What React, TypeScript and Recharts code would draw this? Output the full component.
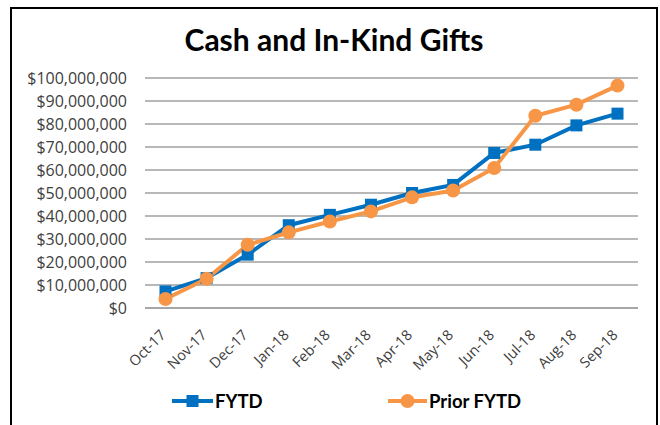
import React from 'react';
import { LineChart, Line, XAxis, YAxis, CartesianGrid } from 'recharts';

const months = ['Oct-17', 'Nov-17', 'Dec-17', 'Jan-18', 'Feb-18', 'Mar-18', 'Apr-18', 'May-18', 'Jun-18', 'Jul-18', 'Aug-18', 'Sep-18'];
const fytd = [7200000, 13000000, 23200000, 36000000, 40500000, 44900000, 50000000, 53500000, 67400000, 71000000, 79400000, 84500000];
const priorFytd = [3900000, 12700000, 27500000, 32900000, 37600000, 42000000, 48100000, 51100000, 60900000, 83600000, 88400000, 96700000];
const yTicks = [0, 10000000, 20000000, 30000000, 40000000, 50000000, 60000000, 70000000, 80000000, 90000000, 100000000];

const data = months.map((m, i) => ({ month: m, fytd: fytd[i], prior: priorFytd[i] }));

const BLUE = '#0070C0';
const ORANGE = '#F79646';
const FONT = 'Lato, "Open Sans", sans-serif';
const TICK_FONT = '"Open Sans", Lato, sans-serif';

const fmt = (v: number) => '$' + v.toLocaleString('en-US');

const XTick = (props: any) => {
  const { x, y, payload } = props;
  return (
    <g transform={`translate(${x + 1},${y + 20})`}>
      <text x={0} y={0} textAnchor="end" transform="rotate(-45)" fontSize={14.5} fill="#404040" fontFamily={TICK_FONT}>
        {payload.value}
      </text>
    </g>
  );
};

const SquareDot = (props: any) => {
  const { cx, cy, index } = props;
  if (cx == null || cy == null) return null;
  return <rect key={`s${index}`} x={cx - 6} y={cy - 6} width={12} height={12} fill={BLUE} />;
};

const CircleDot = (props: any) => {
  const { cx, cy, index } = props;
  if (cx == null || cy == null) return null;
  return <circle key={`c${index}`} cx={cx} cy={cy} r={7} fill={ORANGE} />;
};

export default function App() {
  return (
    <div style={{ position: 'absolute', left: 0, top: 0, width: 660, height: 425, background: '#fff', overflow: 'hidden' }}>
      <div
        style={{
          position: 'absolute',
          left: 10,
          top: 7,
          width: 648,
          height: 440,
          border: '2px solid #000',
          boxSizing: 'border-box',
        }}
      />
      <div
        style={{
          position: 'absolute',
          left: 0,
          top: 21,
          width: 668,
          textAlign: 'center',
          fontFamily: FONT,
          fontWeight: 700,
          fontSize: 30,
          lineHeight: '36px',
          color: '#000',
        }}
      >
        Cash and In-Kind Gifts
      </div>
      <div style={{ position: 'absolute', left: 0, top: 0 }}>
        <LineChart width={660} height={425} data={data} margin={{ top: 78, right: 22, bottom: 0, left: 0 }}>
          <CartesianGrid vertical={false} stroke="#a0a0a0" strokeWidth={1.5} />
          <XAxis
            dataKey="month"
            height={117}
            tick={<XTick />}
            tickLine={false}
            axisLine={{ stroke: '#a0a0a0', strokeWidth: 1.5 }}
            interval={0}
            padding={{ left: 20.5, right: 20.5 }}
          />
          <YAxis
            width={145}
            domain={[0, 100000000]}
            ticks={yTicks}
            tickFormatter={fmt}
            tickLine={false}
            axisLine={false}
            tickMargin={12}
            tick={{ fontSize: 16, fill: '#404040', fontFamily: TICK_FONT }}
          />
          <Line dataKey="fytd" stroke={BLUE} strokeWidth={4} dot={<SquareDot />} isAnimationActive={false} />
          <Line dataKey="prior" stroke={ORANGE} strokeWidth={4} dot={<CircleDot />} isAnimationActive={false} />
        </LineChart>
      </div>
      <div style={{ position: 'absolute', left: 172, top: 390, display: 'flex', alignItems: 'center', fontFamily: FONT, fontWeight: 700, fontSize: 18.5 }}>
        <svg width={41} height={20}>
          <line x1={0} y1={10} x2={41} y2={10} stroke={BLUE} strokeWidth={4} />
          <rect x={14.5} y={4} width={12} height={12} fill={BLUE} />
        </svg>
        <span style={{ marginLeft: 2 }}>FYTD</span>
      </div>
      <div style={{ position: 'absolute', left: 388, top: 390, display: 'flex', alignItems: 'center', fontFamily: FONT, fontWeight: 700, fontSize: 18.5 }}>
        <svg width={39} height={20}>
          <line x1={0} y1={10} x2={39} y2={10} stroke={ORANGE} strokeWidth={4} />
          <circle cx={19.5} cy={10} r={7} fill={ORANGE} />
        </svg>
        <span style={{ marginLeft: 2 }}>Prior FYTD</span>
      </div>
    </div>
  );
}
